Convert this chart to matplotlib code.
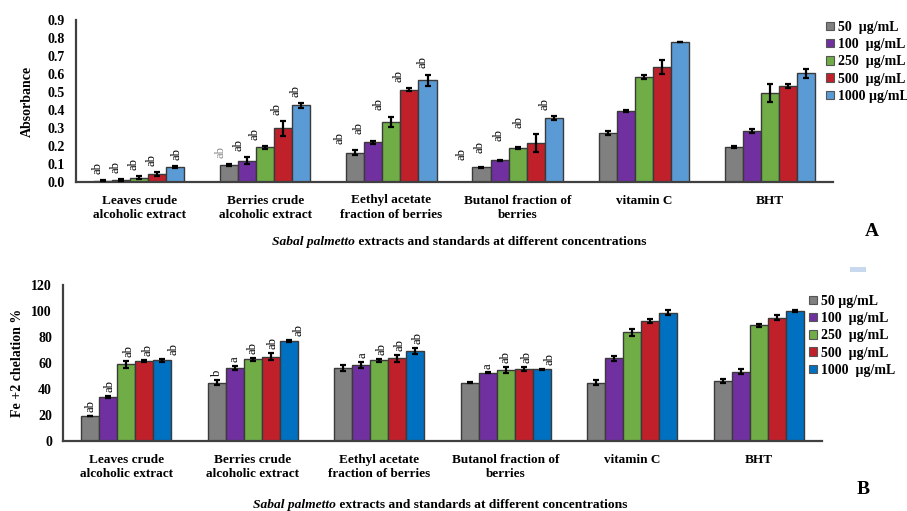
import matplotlib
matplotlib.use('Agg')
import matplotlib.pyplot as plt
import numpy as np
from matplotlib.patches import Patch, Rectangle

# ---------------- data ----------------
categories = ['Leaves crude\nalcoholic extract', 'Berries crude\nalcoholic extract',
              'Eethyl acetate\nfraction of berries', 'Butanol fraction of\nberries',
              'vitamin C', 'BHT']
series_A = ['50  µg/mL', '100  µg/mL', '250  µg/mL', '500  µg/mL', '1000 µg/mL']
series_B = ['50 µg/mL', '100  µg/mL', '250  µg/mL', '500  µg/mL', '1000  µg/mL']

# Panel A: absorbance
abs_50 = [0.007, 0.094, 0.163, 0.083, 0.272, 0.196]
abs_100 = [0.011, 0.118, 0.220, 0.120, 0.394, 0.285]
abs_250 = [0.024, 0.192, 0.333, 0.189, 0.584, 0.492]
abs_500 = [0.046, 0.298, 0.512, 0.214, 0.640, 0.532]
abs_1000 = [0.083, 0.425, 0.566, 0.355, 0.778, 0.604]
abs_err_50 = [0.003, 0.007, 0.012, 0.003, 0.010, 0.006]
abs_err_100 = [0.004, 0.020, 0.010, 0.004, 0.004, 0.012]
abs_err_250 = [0.010, 0.007, 0.030, 0.005, 0.012, 0.050]
abs_err_500 = [0.010, 0.040, 0.008, 0.050, 0.040, 0.010]
abs_err_1000 = [0.005, 0.012, 0.030, 0.010, 0.002, 0.025]
letters_A = [['ab'] * 5, ['ab'] * 5, ['ab'] * 5, ['ab'] * 5, [''] * 5, [''] * 5]

# Panel B: Fe+2 chelation %
chel_50 = [19.3, 45.0, 56.3, 45.0, 45.0, 46.5]
chel_100 = [33.7, 56.3, 58.4, 52.4, 63.5, 53.2]
chel_250 = [58.9, 62.7, 62.0, 54.8, 83.5, 89.0]
chel_500 = [61.4, 65.0, 63.5, 55.3, 92.0, 94.9]
chel_1000 = [62.0, 76.9, 69.2, 55.3, 98.7, 100.0]
chel_err_50 = [0.3, 2.0, 2.5, 0.7, 2.0, 1.5]
chel_err_100 = [1.0, 1.5, 2.5, 0.3, 2.0, 2.0]
chel_err_250 = [2.5, 1.0, 1.0, 2.5, 2.5, 1.0]
chel_err_500 = [1.0, 2.5, 2.5, 1.5, 1.5, 2.0]
chel_err_1000 = [1.0, 0.5, 2.5, 0.3, 2.0, 1.0]
letters_B = [['ab'] * 5, ['b', 'a', 'ab', 'ab', 'ab'], ['', 'a', 'ab', 'ab', 'ab'],
             ['', 'a', 'ab', 'ab', 'ab'], [''] * 5, [''] * 5]

yticks_A = [0.0, 0.1, 0.2, 0.3, 0.4, 0.5, 0.6, 0.7, 0.8, 0.9]
yticks_B = [0, 20, 40, 60, 80, 100, 120]

# ---------------- style ----------------
plt.rcParams['font.family'] = ['Liberation Serif', 'DejaVu Serif']
colors_A = ['#808080', '#7030a0', '#70ad47', '#c0202a', '#5b9bd5']
colors_B = ['#808080', '#7030a0', '#70ad47', '#c0202a', '#0070c0']
edge = '#3a3a3a'

W, H = 907, 511
fig = plt.figure(figsize=(W / 100, H / 100), dpi=100)

def px_axes(l, r, t, b):
    return fig.add_axes([l / W, 1 - b / H, (r - l) / W, (b - t) / H])

axA = px_axes(76, 833, 20, 182)
axB = px_axes(63, 822, 285, 441)

bw = 0.143
x = np.arange(len(categories))


def draw(ax, vals, errs, colors, letters, ymax, yticks, fmt, lab_dy, lab_dx):
    for j, (v, e) in enumerate(zip(vals, errs)):
        xs = x + (j - 2) * bw
        ax.bar(xs, v, bw, color=colors[j], edgecolor=edge, linewidth=1.0, zorder=2)
        ax.errorbar(xs, v, yerr=e, fmt='none', ecolor='black', elinewidth=1.6,
                    capsize=2.2, capthick=1.6, zorder=3)
        for i in range(len(categories)):
            t = letters[i][j]
            if t:
                c = '#888888' if (ax is axA and i == 1 and j == 0) else 'black'
                ax.text(xs[i] + lab_dx[i][j] * bw, v[i] + e[i] + lab_dy, t,
                        rotation=90, ha='center', va='bottom', fontsize=9,
                        color=c, zorder=4)
    ax.set_xlim(-0.5, len(categories) - 0.5)
    ax.set_ylim(0, ymax)
    ax.set_yticks(yticks)
    ax.set_yticklabels([fmt.format(t) for t in yticks], fontsize=10, fontweight='bold')
    ax.set_xticks(x)
    ax.set_xticklabels(categories, fontsize=9.5, fontweight='bold', linespacing=1.25)
    ax.tick_params(axis='both', length=0)
    ax.tick_params(axis='x', pad=9)
    ax.tick_params(axis='y', pad=8)
    for s in ['top', 'right']:
        ax.spines[s].set_visible(False)
    for s in ['left', 'bottom']:
        ax.spines[s].set_linewidth(1.6)
        ax.spines[s].set_color('#404040')


dxA = [[-0.3, -0.3, -0.3, -0.3, 0.05], [-0.5, -0.5, -0.6, -0.4, -0.3],
       [-0.9, -0.8, -0.7, -0.6, -0.3], [-1.1, -1.1, -1.05, -0.95, -0.5],
       [0] * 5, [0] * 5]
dxB = [[0, 0.1, 0.15, 0.2, 0.6], [0, 0, 0, 0.1, 0.55], [0, 0.1, 0.1, 0.1, 0.1],
       [0, 0, 0, 0.15, 0.4], [0] * 5, [0] * 5]

draw(axA, [abs_50, abs_100, abs_250, abs_500, abs_1000],
     [abs_err_50, abs_err_100, abs_err_250, abs_err_500, abs_err_1000],
     colors_A, letters_A, 0.9, yticks_A, '{:.1f}', 0.035, dxA)
draw(axB, [chel_50, chel_100, chel_250, chel_500, chel_1000],
     [chel_err_50, chel_err_100, chel_err_250, chel_err_500, chel_err_1000],
     colors_B, letters_B, 120, yticks_B, '{:d}', 3.0, dxB)

axA.set_ylabel('Absorbance', fontsize=10, fontweight='bold', labelpad=10)
axB.set_ylabel('Fe +2 chelation %', fontsize=10, fontweight='bold', labelpad=5)


def legend(labels, colors, xl, yt):
    handles = [Patch(facecolor=c, edgecolor='#555555', linewidth=0.8) for c in colors]
    fig.legend(handles, labels, loc='upper left', bbox_to_anchor=(xl / W, 1 - yt / H),
               frameon=False, prop={'weight': 'bold', 'size': 10},
               handlelength=0.55, handleheight=0.55, handletextpad=0.3,
               labelspacing=0.3, borderpad=0, borderaxespad=0)


legend(series_A, colors_A, 826, 21)
legend(series_B, colors_B, 809, 295)


def xlabel(x0, y):
    t1 = fig.text(x0 / W, 1 - y / H, 'Sabal palmetto', fontsize=9.7,
                  fontweight='bold', style='italic', ha='left', va='center')
    fig.add_artist(matplotlib.text.Annotation(
        ' extracts and standards at different concentrations',
        xy=(1, 0.5), xycoords=t1, ha='left', va='center',
        fontsize=9.7, fontweight='bold'))


xlabel(272, 242)
xlabel(253, 505)

fig.text(872 / W, 1 - 231 / H, 'A', fontsize=14, fontweight='bold', ha='center', va='center')
fig.text(863 / W, 1 - 490 / H, 'B', fontsize=14, fontweight='bold', ha='center', va='center')
fig.patches.append(Rectangle((850 / W, 1 - 272 / H), 16 / W, 5 / H,
                             transform=fig.transFigure, facecolor='#c8d8ee',
                             edgecolor='none'))

fig.savefig('out.png', dpi=100)
